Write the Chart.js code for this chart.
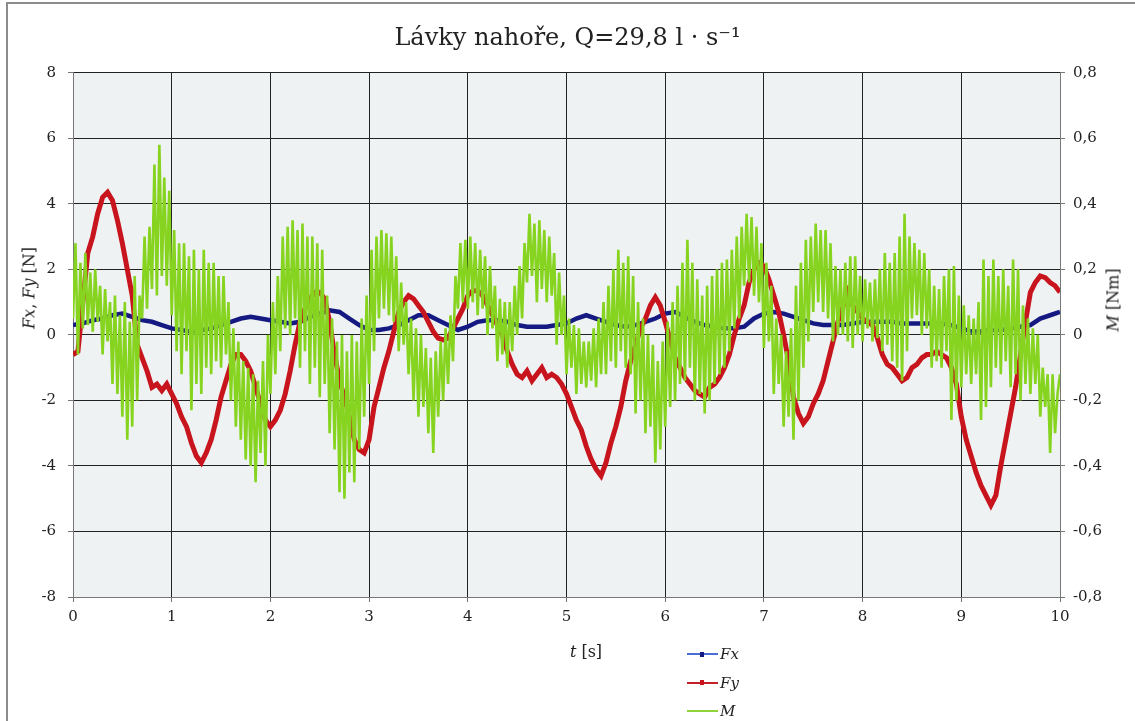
<!DOCTYPE html>
<html>
<head>
<meta charset="utf-8">
<script src="https://cdn.jsdelivr.net/npm/chart.js@4.4.1/dist/chart.umd.min.js"></script>
<style>
  html, body { margin: 0; padding: 0; background: #fff; }
  #wrap { position: relative; width: 1135px; height: 721px; overflow: hidden; font-family: "DejaVu Serif", serif; color: #222; }
  #frame { position: absolute; left: 6px; top: 2px; width: 1200px; height: 800px; border: 2px solid #8c8c8c; }
  #chart { position: absolute; left: 0; top: 0; }
  .ax { position: absolute; font-size: 16px; white-space: nowrap; transform: translate(-50%, -50%); }
  .rot { transform: translate(-50%, -50%) rotate(-90deg); }
  #legend { position: absolute; left: 687px; top: 640px; font-size: 15px; }
  .row { height: 28.5px; display: flex; align-items: center; }
  .sw { position: relative; width: 31px; height: 2px; margin-right: 2px; }
  .sw b { position: absolute; left: 13px; top: -1.5px; width: 4px; height: 5px; }
</style>
</head>
<body>
<div id="wrap">
  <div id="frame"></div>
  <canvas id="chart" width="1135" height="721"></canvas>
  <div class="ax rot" style="left:29px; top:288px;"><i>Fx</i>, <i>Fy</i> [N]</div>
  <div class="ax rot" style="left:1113px; top:300px;"><i>M</i> [Nm]</div>
  <div class="ax" style="left:586px; top:651px;"><i>t</i> [s]</div>
  <div id="legend"></div>
</div>
<script>
/* ── DATA ── */
var fxStep = 0.1, fyStep = 0.05, mStep = 0.025;

// Fx [N], every 0.1 s
var fxVals = [
  0.3, 0.35, 0.45, 0.5, 0.6, 0.65, 0.55, 0.45, 0.4, 0.3,
  0.2, 0.15, 0.1, 0.15, 0.2, 0.3, 0.4, 0.5, 0.55, 0.5,
  0.45, 0.4, 0.35, 0.4, 0.55, 0.65, 0.75, 0.7, 0.5, 0.3,
  0.15, 0.15, 0.2, 0.3, 0.45, 0.6, 0.6, 0.45, 0.3, 0.15,
  0.25, 0.4, 0.45, 0.45, 0.4, 0.3, 0.25, 0.25, 0.25, 0.3,
  0.35, 0.5, 0.6, 0.5, 0.4, 0.3, 0.25, 0.3, 0.4, 0.5,
  0.65, 0.7, 0.55, 0.4, 0.3, 0.25, 0.2, 0.2, 0.25, 0.5,
  0.65, 0.7, 0.65, 0.55, 0.45, 0.35, 0.3, 0.3, 0.3, 0.35,
  0.4, 0.4, 0.4, 0.4, 0.35, 0.35, 0.35, 0.35, 0.35, 0.3,
  0.2, 0.1, 0.1, 0.15, 0.15, 0.2, 0.25, 0.3, 0.5, 0.6,
  0.7
];

// Fy [N], every 0.05 s
var fyVals = [
  -0.6, -0.5, 1.0, 2.5, 3.0, 3.7, 4.2, 4.35, 4.1, 3.5,
  2.8, 2.0, 1.2, -0.3, -0.7, -1.1, -1.6, -1.5, -1.7, -1.5,
  -1.8, -2.1, -2.5, -2.8, -3.3, -3.7, -3.9, -3.6, -3.2, -2.6,
  -1.9, -1.4, -0.9, -0.6, -0.6, -0.8, -1.1, -1.6, -2.1, -2.6,
  -2.8, -2.6, -2.3, -1.8, -1.1, -0.3, 0.4, 0.8, 1.1, 1.3,
  1.3, 1.1, 0.4, -0.6, -1.4, -1.9, -2.5, -3.2, -3.5, -3.6,
  -3.2, -2.2, -1.6, -1.0, -0.5, 0.1, 0.7, 1.0, 1.2, 1.1,
  0.9, 0.7, 0.4, 0.1, -0.1, -0.15, -0.1, 0.2, 0.5, 0.8,
  1.2, 1.35, 1.35, 1.2, 0.9, 0.6, 0.3, 0.0, -0.5, -0.9,
  -1.2, -1.3, -1.1, -1.4, -1.2, -1.0, -1.3, -1.2, -1.3, -1.5,
  -1.8, -2.2, -2.6, -2.9, -3.4, -3.8, -4.1, -4.3, -3.9, -3.3,
  -2.8, -2.2, -1.4, -0.8, -0.3, 0.2, 0.5, 0.9, 1.15, 0.9,
  0.4, -0.15, -0.7, -1.0, -1.3, -1.5, -1.7, -1.8, -1.9, -1.6,
  -1.5, -1.3, -1.0, -0.6, 0.0, 0.5, 0.9, 1.6, 2.0, 2.2,
  2.1, 1.7, 1.2, 0.7, 0.0, -0.8, -1.9, -2.4, -2.7, -2.5,
  -2.1, -1.8, -1.4, -0.8, -0.2, 0.4, 0.85, 1.3, 0.9, 0.7,
  0.5, 0.4, 0.3, -0.1, -0.6, -0.9, -1.0, -1.2, -1.4, -1.3,
  -1.0, -0.9, -0.7, -0.6, -0.6, -0.5, -0.6, -0.7, -1.0, -1.5,
  -2.5, -3.2, -3.7, -4.2, -4.6, -4.9, -5.2, -4.9, -4.0, -3.2,
  -2.4, -1.6, -0.6, 0.4, 1.3, 1.6, 1.8, 1.75, 1.6, 1.5,
  1.3
];

// M [Nm], every 0.025 s
var mVals = [
  0.05, 0.28, -0.06, 0.22,   0.02, 0.25, 0.03, 0.19,   0.01, 0.20, 0.04, 0.15,
  -0.06, 0.14, -0.02, 0.10,  -0.15, 0.12, -0.18, 0.06, -0.25, 0.10, -0.32, 0.04,
  -0.28, 0.18, -0.20, 0.12,  0.05, 0.30, 0.08, 0.33,   0.14, 0.52, 0.12, 0.58,
  0.18, 0.48, 0.15, 0.44,    0.06, 0.32, -0.05, 0.28,  -0.12, 0.28, -0.05, 0.24,
  -0.23, 0.26, -0.15, 0.20,  -0.18, 0.26, -0.10, 0.22, -0.12, 0.22, -0.08, 0.18,
  -0.10, 0.18, -0.06, 0.10,  -0.20, 0.02, -0.28, -0.02, -0.32, -0.08, -0.38, -0.10,
  -0.40, -0.12, -0.45, -0.14, -0.36, -0.08, -0.40, 0.00, -0.18, 0.10, -0.12, 0.18,
  -0.05, 0.30, 0.02, 0.33,   0.00, 0.35, 0.05, 0.32,   -0.10, 0.34, -0.05, 0.30,
  -0.15, 0.30, -0.10, 0.28,  -0.19, 0.26, -0.15, 0.12, -0.30, 0.05, -0.35, -0.02,
  -0.48, 0.00, -0.50, -0.05, -0.42, 0.00, -0.45, -0.02, -0.35, 0.05, -0.25, 0.12,
  -0.15, 0.26, -0.05, 0.30,  0.05, 0.32, 0.08, 0.31,   0.06, 0.30, 0.04, 0.24,
  -0.05, 0.16, -0.03, 0.10,  -0.12, 0.05, -0.20, 0.02, -0.25, 0.00, -0.22, -0.04,
  -0.30, -0.07, -0.36, -0.05, -0.25, -0.02, -0.20, 0.02, -0.15, 0.06, -0.08, 0.18,
  0.08, 0.28, 0.10, 0.29,    0.08, 0.30, 0.10, 0.28,   0.06, 0.26, 0.08, 0.24,
  0.00, 0.21, 0.02, 0.15,    -0.08, 0.11, -0.06, 0.10, -0.10, 0.10, -0.05, 0.15,
  0.00, 0.21, 0.05, 0.28,    0.16, 0.37, 0.18, 0.34,   0.10, 0.35, 0.14, 0.32,
  0.10, 0.30, 0.12, 0.25,    -0.03, 0.19, 0.00, 0.12,  -0.12, 0.05, -0.10, 0.03,
  -0.18, 0.02, -0.15, -0.02, -0.16, -0.02, -0.14, 0.02, -0.16, 0.05, -0.12, 0.10,
  -0.12, 0.15, -0.08, 0.20,  -0.10, 0.26, -0.05, 0.22, -0.10, 0.24, -0.12, 0.18,
  -0.24, 0.10, -0.20, 0.05,  -0.30, 0.00, -0.28, -0.03, -0.39, -0.08, -0.35, -0.02,
  -0.28, 0.04, -0.22, 0.10,  -0.20, 0.15, -0.15, 0.22, -0.14, 0.29, -0.10, 0.22,
  -0.20, 0.17, -0.18, 0.12,  -0.24, 0.15, -0.20, 0.18, -0.15, 0.20, -0.12, 0.22,
  -0.10, 0.23, -0.05, 0.26,  0.02, 0.30, 0.05, 0.33,   0.15, 0.37, 0.16, 0.36,
  0.12, 0.33, 0.10, 0.28,    -0.04, 0.22, -0.02, 0.15, -0.18, 0.05, -0.15, 0.00,
  -0.28, -0.05, -0.25, 0.02, -0.32, 0.15, -0.20, 0.22, -0.10, 0.29, -0.02, 0.30,
  0.07, 0.34, 0.10, 0.32,    0.07, 0.32, 0.05, 0.28,   -0.02, 0.21, 0.00, 0.20,
  0.00, 0.22, -0.02, 0.24,   -0.04, 0.24, 0.00, 0.18,  -0.02, 0.17, 0.02, 0.16,
  -0.02, 0.17, -0.01, 0.20,  -0.05, 0.25, -0.03, 0.22, -0.08, 0.25, -0.10, 0.30,
  -0.14, 0.37, -0.05, 0.30,  0.05, 0.28, 0.06, 0.26,   0.00, 0.25, 0.02, 0.20,
  -0.10, 0.15, -0.08, 0.14,  -0.10, 0.18, -0.05, 0.20, -0.26, 0.21, -0.20, 0.12,
  -0.16, 0.09, -0.12, 0.06,  -0.15, 0.05, -0.12, 0.10, -0.26, 0.23, -0.22, 0.18,
  -0.16, 0.23, -0.10, 0.18,  -0.12, 0.20, -0.08, 0.15, -0.16, 0.23, -0.12, 0.20,
  -0.20, 0.09, -0.15, 0.05,  -0.18, 0.02, -0.15, 0.00, -0.25, -0.10, -0.22, -0.12,
  -0.36, -0.12, -0.30, -0.18,
  -0.12
];

var xTicks = { min: 0, max: 10, step: 1 };
var yTicksN = { min: -8, max: 8, step: 2 };
var yTicksNm = { min: -0.8, max: 0.8, step: 0.2 };

function toPoints(vals, step) {
  return vals.map(function (v, i) { return { x: +(i * step).toFixed(3), y: v }; });
}

/* ── CHART ── */
var tickFont = { family: 'DejaVu Serif', size: 15 };

var plotBg = {
  id: 'plotBg',
  beforeDraw: function (c) {
    var a = c.chartArea, ctx = c.ctx;
    ctx.save();
    ctx.fillStyle = '#eff2f2';
    ctx.fillRect(a.left, a.top, a.right - a.left, a.bottom - a.top);
    ctx.restore();
  }
};

var chart = new Chart(document.getElementById('chart'), {
  type: 'line',
  data: {
    datasets: [
      { label: 'Fx', data: toPoints(fxVals, fxStep), borderColor: '#141a82', legendColor: '#4a6ed6',
        borderWidth: 4.5, pointRadius: 0, yAxisID: 'y', order: 2, marker: true },
      { label: 'Fy', data: toPoints(fyVals, fyStep), borderColor: '#c7141d', legendColor: '#c42028',
        borderWidth: 5, pointRadius: 0, yAxisID: 'y', order: 1, marker: true },
      { label: 'M', data: toPoints(mVals, mStep), borderColor: '#86d41f', legendColor: '#8fd23a',
        borderWidth: 2.6, pointRadius: 0, yAxisID: 'y1', order: 0, marker: false }
    ]
  },
  options: {
    responsive: false,
    animation: false,
    devicePixelRatio: 1,
    layout: { padding: 0 },
    plugins: {
      legend: { display: false },
      tooltip: { enabled: false },
      title: {
        display: true,
        text: 'Lávky nahoře, Q=29,8 l · s⁻¹',
        color: '#222',
        font: { family: 'DejaVu Serif', size: 24, weight: 'normal' },
        padding: { top: 24, bottom: 20 }
      }
    },
    scales: {
      x: {
        type: 'linear', min: xTicks.min, max: xTicks.max,
        ticks: { stepSize: xTicks.step, font: tickFont, color: '#222', padding: 6 },
        grid: { color: '#222', lineWidth: 1, tickLength: 5, tickColor: '#777' },
        border: { color: '#777' },
        afterFit: function (s) { s.height = 124; }
      },
      y: {
        position: 'left', min: yTicksN.min, max: yTicksN.max,
        ticks: { stepSize: yTicksN.step, font: tickFont, color: '#222', padding: 12 },
        grid: { color: '#222', lineWidth: 1, tickLength: 5, tickColor: '#777' },
        border: { color: '#777' },
        afterFit: function (s) { s.width = 73; }
      },
      y1: {
        position: 'right', min: yTicksNm.min, max: yTicksNm.max,
        ticks: {
          stepSize: yTicksNm.step, font: tickFont, color: '#222', padding: 8,
          callback: function (v) { return Math.abs(v) < 1e-9 ? '0' : v.toFixed(1).replace('.', ','); }
        },
        grid: { drawOnChartArea: false, tickLength: 5, tickColor: '#777' },
        border: { color: '#777' },
        afterFit: function (s) { s.width = 75; }
      }
    }
  },
  plugins: [plotBg]
});

/* ── LEGEND (html, for the italic labels) ── */
var leg = document.getElementById('legend');
chart.data.datasets.forEach(function (ds) {
  var row = document.createElement('div');
  row.className = 'row';
  var sw = document.createElement('span');
  sw.className = 'sw';
  sw.style.background = ds.legendColor;
  if (ds.marker) {
    var dot = document.createElement('b');
    dot.style.background = ds.borderColor;
    sw.appendChild(dot);
  }
  var txt = document.createElement('i');
  txt.textContent = ds.label;
  row.appendChild(sw);
  row.appendChild(txt);
  leg.appendChild(row);
});
</script>
</body>
</html>
